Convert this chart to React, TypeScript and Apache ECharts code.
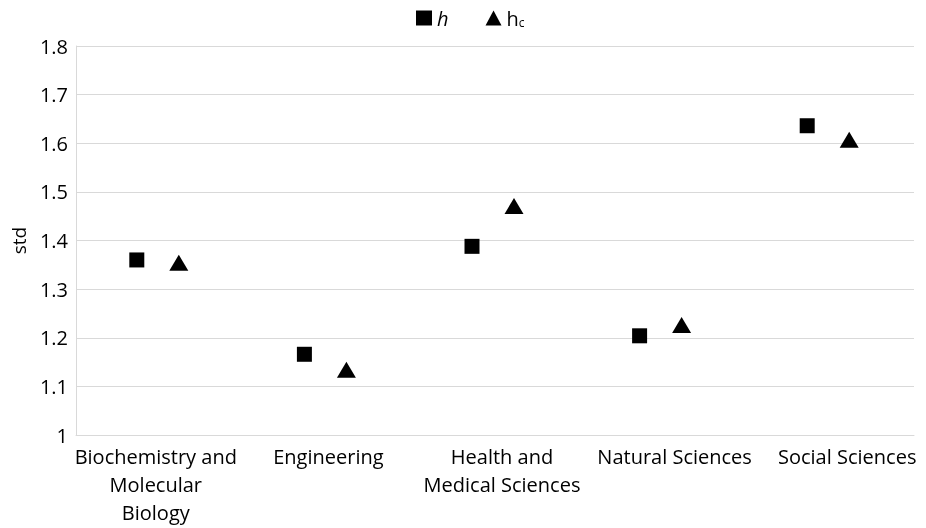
import React, { useEffect, useRef } from "react";
import * as echarts from "echarts";

const categories = [
  "Biochemistry and\nMolecular\nBiology",
  "Engineering",
  "Health and\nMedical Sciences",
  "Natural Sciences",
  "Social Sciences",
];
const hValues = [1.36, 1.166, 1.388, 1.204, 1.636];
const hcValues = [1.354, 1.134, 1.471, 1.226, 1.607];
const yTicks = [1, 1.1, 1.2, 1.3, 1.4, 1.5, 1.6, 1.7, 1.8];
// horizontal nudges of the wrapped category labels (px)
const labelShifts = [-4, 1, 7, 12, 17];

const FONT = "Open Sans";
const FS = 20;

const richLabels: Record<string, any> = {};
labelShifts.forEach((s, i) => {
  richLabels["c" + i] = {
    fontFamily: FONT,
    fontSize: FS,
    color: "#000",
    lineHeight: 28,
    padding: s >= 0 ? [0, 0, 0, 2 * s] : [0, -2 * s, 0, 0],
  };
});

export default function App() {
  const ref = useRef<HTMLDivElement>(null);
  useEffect(() => {
    if (!ref.current) return;
    const chart = echarts.init(ref.current, undefined, { renderer: "svg" });
    chart.setOption({
      animation: false,
      textStyle: { fontFamily: FONT, color: "#000" },
      legend: {
        top: 3,
        left: 411,
        itemGap: 37,
        itemWidth: 16,
        itemHeight: 15,
        textStyle: {
          fontFamily: FONT,
          fontSize: FS,
          color: "#000",
          rich: {
            i: { fontFamily: FONT, fontSize: FS, fontStyle: "italic", color: "#000" },
            n: { fontFamily: FONT, fontSize: FS, color: "#000" },
            sub: { fontFamily: FONT, fontSize: 12, color: "#000", verticalAlign: "bottom", padding: [9, 0, 0, 0] },
          },
        },
        formatter: (name: string) => (name === "h" ? "{i|h}" : "{n|h}{sub|c}"),
        data: [
          { name: "h", icon: "rect", itemStyle: { color: "#000", opacity: 1 } },
          { name: "hc", icon: "triangle", itemStyle: { color: "#000", opacity: 1 } },
        ],
      },
      grid: { left: 76, right: 12, top: 46, bottom: 93, containLabel: false, outerBoundsMode: "none" },
      xAxis: {
        type: "category",
        data: categories,
        boundaryGap: true,
        axisLine: { show: true, lineStyle: { color: "#d9d9d9" } },
        axisTick: { show: false },
        axisLabel: {
          interval: 0,
          fontFamily: FONT,
          fontSize: FS,
          color: "#000",
          lineHeight: 28,
          margin: 7,
          hideOverlap: false,
          formatter: (v: string, i: number) =>
            v
              .split("\n")
              .map((line) => `{c${i}|${line}}`)
              .join("\n"),
          rich: richLabels,
        },
        splitLine: { show: false },
      },
      yAxis: {
        type: "value",
        min: 1,
        max: 1.8,
        interval: 0.1,
        name: "std",
        nameLocation: "middle",
        nameGap: 48,
        nameTextStyle: { fontFamily: FONT, fontSize: 19, color: "#000" },
        axisLine: { show: true, lineStyle: { color: "#d9d9d9" } },
        axisTick: { show: false },
        axisLabel: {
          fontFamily: FONT,
          fontSize: FS,
          color: "#000",
          margin: 8,
          formatter: (v: number) => {
            const t = yTicks.find((x) => Math.abs(x - v) < 1e-6);
            return t === undefined ? "" : String(t);
          },
        },
        splitLine: { show: true, lineStyle: { color: "#d9d9d9", width: 1 } },
      },
      series: [
        {
          name: "h",
          type: "scatter",
          data: hValues,
          symbol: "rect",
          symbolSize: 15,
          symbolOffset: [-23, 0],
          itemStyle: { color: "#000", opacity: 1 },
        },
        {
          name: "hc",
          type: "scatter",
          data: hcValues,
          symbol: "triangle",
          symbolSize: [19, 16],
          symbolOffset: [19, 0],
          itemStyle: { color: "#000", opacity: 1 },
        },
      ],
    });
    return () => chart.dispose();
  }, []);
  return (
    <div
      ref={ref}
      style={{ position: "fixed", left: 0, top: 0, width: 926, height: 528 }}
    />
  );
}
